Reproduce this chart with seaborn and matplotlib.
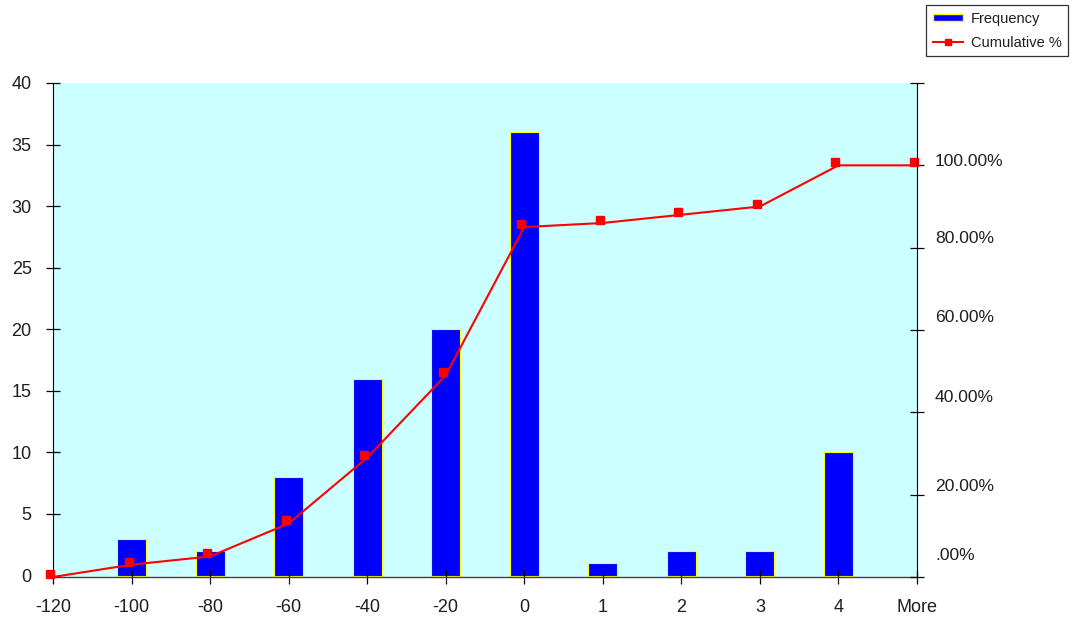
import numpy as np
import matplotlib
matplotlib.use("Agg")
import matplotlib.pyplot as plt
from matplotlib.transforms import ScaledTranslation
from matplotlib.patches import Patch
from matplotlib.lines import Line2D
import seaborn as sns
import pandas as pd

# Histogram bins and results
bins = ["-120", "-100", "-80", "-60", "-40", "-20", "0", "1", "2", "3", "4", "More"]
frequency = [0, 3, 2, 8, 16, 20, 36, 1, 2, 2, 10, 0]
cumulative_pct = [0, 3, 5, 13, 29, 49, 85, 86, 88, 90, 100, 100]

left_ticks = [0, 5, 10, 15, 20, 25, 30, 35, 40]
right_ticks = [0, 20, 40, 60, 80, 100, 120]
right_labels = [".00%", "20.00%", "40.00%", "60.00%", "80.00%", "100.00%"]
# vertical nudge (pixels) of each right-hand label above its tick
right_label_lift = [22, 8, 15, 12, 9.5, 3.5]

plt.rcParams["font.family"] = ["Liberation Sans", "DejaVu Sans"]
TXT = "#1e1e1e"

W, H = 1075, 617
fig = plt.figure(figsize=(W / 100, H / 100), dpi=100)
ax = fig.add_axes([53 / W, 40 / H, 864 / W, 494 / H])
ax.set_facecolor("#CCFFFF")

df = pd.DataFrame({"bin": bins, "freq": frequency})
sns.barplot(data=df, x="bin", y="freq", order=bins, color="#0000FF",
            saturation=1, width=0.37, edgecolor="#FFFF00", linewidth=0.8, ax=ax)
for p in ax.patches:
    if p.get_height() == 0:
        p.set_linewidth(0)

ax2 = ax.twinx()
pos = np.arange(len(bins))
sns.lineplot(x=pos, y=cumulative_pct, color="#FF0000", linewidth=1.5, ax=ax2)
shift = ScaledTranslation(-3 / 100, 3 / 100, fig.dpi_scale_trans)
ax2.plot(pos, cumulative_pct, ls="none", marker="s", markersize=5.5,
         color="#FF0000", transform=ax2.transData + shift, clip_on=False)

ax.set_xlim(0, len(bins) - 1)
ax.set_ylim(-0.12, 40)
ax2.set_ylim(0, 120)
ax.set_yticks(left_ticks)
ax.set_yticklabels([str(t) for t in left_ticks])
ax.set_xticks(pos)
ax.set_xticklabels(bins)
ax.set_xlabel("")
ax.set_ylabel("")
ax2.set_xlabel("")
ax2.set_ylabel("")

ax.spines["top"].set_visible(False)
ax2.spines["top"].set_visible(False)
ax.spines["right"].set_visible(False)
ax2.spines["left"].set_visible(False)
ax2.spines["bottom"].set_visible(False)
ax.spines["left"].set_color("black")
ax.spines["bottom"].set_color("#404040")
ax.spines["bottom"].set_linewidth(1.0)
ax2.spines["right"].set_color("black")

ax.tick_params(axis="y", direction="inout", length=9.4, width=0.9,
               pad=10.6, labelsize=13, labelcolor=TXT, color="black")
ax.tick_params(axis="x", direction="inout", length=9.4, width=0.9,
               pad=10.8, labelsize=13, labelcolor=TXT, color="black")

ax2.set_yticks(right_ticks)
ax2.tick_params(axis="y", direction="inout", length=9.4, width=0.9,
                labelright=False, color="black")
ytr = ax2.get_yaxis_transform()
for v, lbl, lift in zip(right_ticks, right_labels, right_label_lift):
    ax2.annotate(lbl, xy=(1, v), xycoords=ytr,
                 xytext=(18 * 0.72, lift * 0.72), textcoords="offset points",
                 ha="left", va="center", fontsize=12.6, color=TXT)

handles = [
    Patch(facecolor="#0000FF", edgecolor="#FFFF00", linewidth=1.0),
    Line2D([0], [0], color="#FF0000", linewidth=1.5, marker="s",
           markersize=4.5),
]
leg = fig.legend(handles, ["Frequency", "Cumulative %"],
                 loc="upper right", bbox_to_anchor=(1068 / W, 1 - 5 / H),
                 fontsize=10.5, frameon=True, fancybox=False,
                 handlelength=2.05, handleheight=0.4, handletextpad=0.55,
                 labelspacing=0.7, borderpad=0.45, borderaxespad=0)
leg.get_frame().set_edgecolor("black")
leg.get_frame().set_linewidth(0.9)
for t in leg.get_texts():
    t.set_color(TXT)

fig.savefig("out.png", dpi=100)
